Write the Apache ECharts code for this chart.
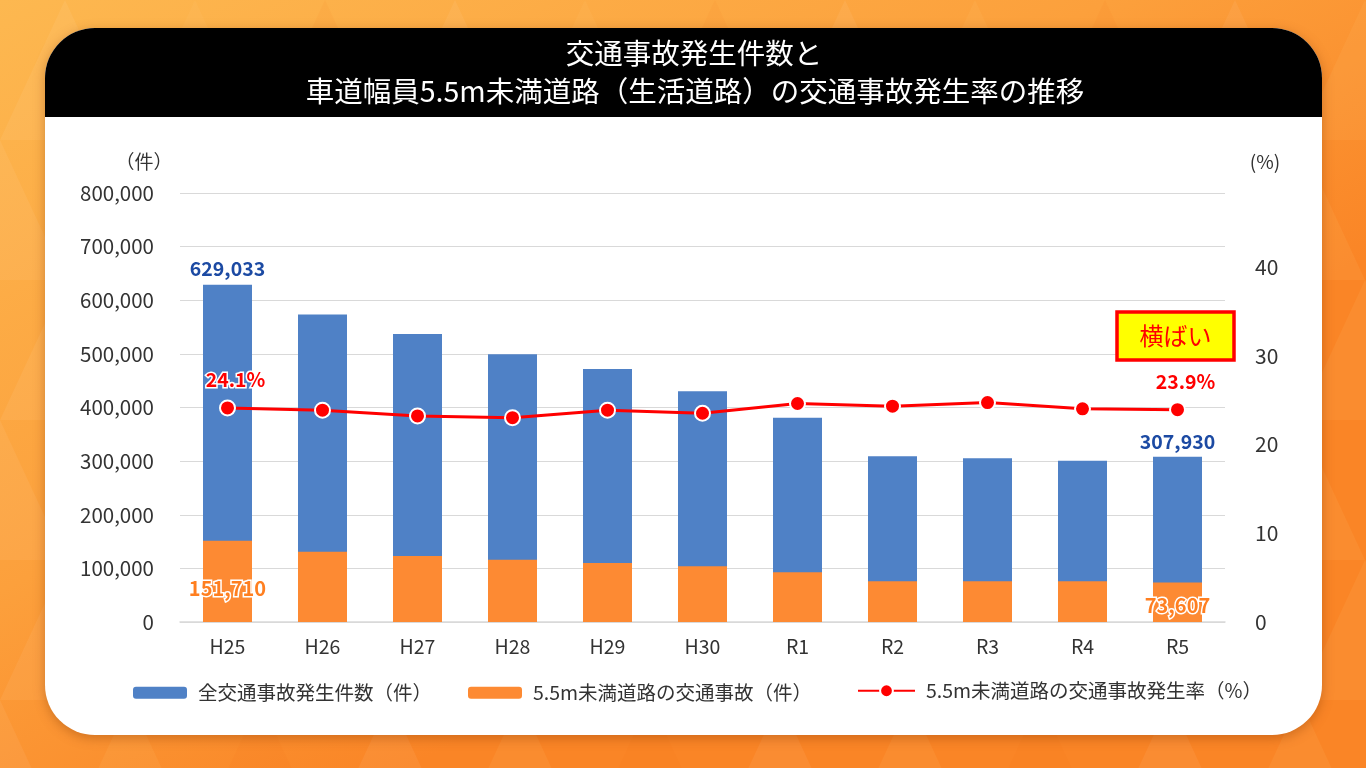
<!DOCTYPE html>
<html>
<head>
<meta charset="utf-8">
<script src="https://cdn.jsdelivr.net/npm/echarts@6/dist/echarts.min.js"></script>
<style>
html,body{margin:0;padding:0;width:1366px;height:768px;overflow:hidden;}
#c{width:1366px;height:768px;}
</style>
</head>
<body>
<div id="c"></div>
<script>
const categories = ['H25','H26','H27','H28','H29','H30','R1','R2','R3','R4','R5'];
const totalAccidents = [629033, 573465, 536931, 499098, 471859, 430450, 381002, 309178, 305196, 300839, 307930];
const narrowRoadAccidents = [151710, 131000, 123000, 116000, 110000, 104000, 93000, 76000, 76000, 76000, 73607];
const narrowRoadRate = [24.1, 23.85, 23.2, 23.0, 23.85, 23.5, 24.6, 24.3, 24.7, 24.0, 23.9];
const leftTicks = [0, 100000, 200000, 300000, 400000, 500000, 600000, 700000, 800000];
const rightTicks = [0, 10, 20, 30, 40];
const seriesNames = ['全交通事故発生件数（件）', '5.5m未満道路の交通事故（件）', '5.5m未満道路の交通事故発生率（%）'];
const titleLines = ['交通事故発生件数と', '車道幅員5.5m未満道路（生活道路）の交通事故発生率の推移'];
const badgeText = '横ばい';

const FONT = '"Noto Sans CJK JP","Noto Sans",sans-serif';
const last = categories.length - 1;

const chart = echarts.init(document.getElementById('c'));

// decorative background triangles
const tris = [];
const triColors = ['rgba(255,255,255,0.06)','rgba(255,210,130,0.10)','rgba(230,110,20,0.06)'];
let k = 0;
for (let row = 0; row < 6; row++) {
  for (let col = 0; col < 12; col++) {
    const x = col * 130 - (row % 2) * 65;
    const y = row * 140;
    tris.push({
      type: 'polygon', silent: true, z: -10,
      shape: { points: [[x, y + 140], [x + 65, y], [x + 130, y + 140]] },
      style: { fill: triColors[(k++) % 3] }
    });
  }
}

const blueData = totalAccidents.map((v, i) => ({
  value: v,
  label: { show: i === 0 || i === last }
}));
const orangeData = narrowRoadAccidents.map((v, i) => ({
  value: v,
  label: { show: i === 0 || i === last, distance: i === 0 ? 24 : 7 }
}));
const rateData = narrowRoadRate.map((v, i) => ({
  value: v,
  label: { show: i === 0 || i === last }
}));

const legendText = { fontSize: 19.5, color: '#333333', fontFamily: FONT, padding: [0, 0, 0, 6] };

chart.setOption({
  animation: false,
  backgroundColor: {
    type: 'linear', x: 0, y: 0, x2: 0.3, y2: 1,
    colorStops: [{ offset: 0, color: '#fdb850' }, { offset: 0.6, color: '#fca03c' }, { offset: 1, color: '#fa8526' }]
  },
  textStyle: { fontFamily: FONT },
  graphic: [
    ...tris,
    {
      type: 'rect', z: -5, silent: true,
      shape: { x: 45, y: 28, width: 1277, height: 707, r: 50 },
      style: { fill: '#ffffff', shadowBlur: 12, shadowColor: 'rgba(120,50,0,0.35)', shadowOffsetY: 3 }
    },
    {
      type: 'rect', z: -4, silent: true,
      shape: { x: 45, y: 28, width: 1277, height: 89, r: [50, 50, 0, 0] },
      style: { fill: '#000000' }
    },
    {
      type: 'text', z: 10, x: 694, y: 53,
      style: { text: titleLines[0], fill: '#ffffff', font: '28.5px ' + FONT, align: 'center', verticalAlign: 'middle' }
    },
    {
      type: 'text', z: 10, x: 695, y: 91,
      style: { text: titleLines[1], fill: '#ffffff', font: '28.5px ' + FONT, align: 'center', verticalAlign: 'middle' }
    },
    {
      type: 'text', z: 10, x: 144, y: 162,
      style: { text: '（件）', fill: '#333333', font: '19px ' + FONT, align: 'center', verticalAlign: 'middle' }
    },
    {
      type: 'text', z: 10, x: 1265, y: 162,
      style: { text: '(%)', fill: '#333333', font: '19px ' + FONT, align: 'center', verticalAlign: 'middle' }
    },
    {
      type: 'rect', z: 10,
      shape: { x: 1117, y: 312, width: 117, height: 48 },
      style: { fill: '#ffff00', stroke: '#ff0000', lineWidth: 3.5 }
    },
    {
      type: 'text', z: 11, x: 1175.5, y: 336,
      style: { text: badgeText, fill: '#ff0000', font: '24px ' + FONT, align: 'center', verticalAlign: 'middle' }
    }
  ],
  grid: { left: 180, right: 141, top: 193, bottom: 146 },
  legend: [
    {
      left: 128, top: 678,
      itemWidth: 54, itemHeight: 12, itemGap: 36,
      textStyle: legendText,
      data: [seriesNames[0], seriesNames[1]]
    },
    {
      left: 852, top: 676,
      itemWidth: 57, itemHeight: 16,
      textStyle: legendText,
      data: [seriesNames[2]]
    }
  ],
  xAxis: {
    type: 'category', data: categories,
    axisLine: { lineStyle: { color: '#d9d9d9', width: 1.5 } },
    axisTick: { show: false },
    axisLabel: { fontSize: 19.5, color: '#333333', margin: 15, fontFamily: FONT }
  },
  yAxis: [
    {
      type: 'value', min: leftTicks[0], max: leftTicks[leftTicks.length - 1], interval: leftTicks[1] - leftTicks[0],
      axisLine: { show: false }, axisTick: { show: false },
      splitLine: { lineStyle: { color: '#d9d9d9', width: 1.2 } },
      axisLabel: {
        fontSize: 20.5, color: '#333333', margin: 26, fontFamily: FONT,
        formatter: v => v.toLocaleString('en-US')
      }
    },
    {
      type: 'value', min: rightTicks[0], max: 48.3, interval: rightTicks[1] - rightTicks[0],
      axisLine: { show: false }, axisTick: { show: false }, splitLine: { show: false },
      axisLabel: {
        fontSize: 21, color: '#333333', margin: 30, fontFamily: FONT,
        showMaxLabel: false,
        formatter: v => (rightTicks.indexOf(v) >= 0 ? String(v) : '')
      }
    }
  ],
  series: [
    {
      name: seriesNames[0], type: 'bar', data: blueData, barWidth: 49, z: 2,
      itemStyle: { color: '#4f81c6' },
      label: {
        position: 'top', distance: 6, color: '#1c4aa3', fontSize: 19.5, fontWeight: 'bold', fontFamily: FONT,
        formatter: p => p.value.toLocaleString('en-US')
      }
    },
    {
      name: seriesNames[1], type: 'bar', data: orangeData, barWidth: 49, barGap: '-100%', z: 3,
      itemStyle: { color: '#fd8a33' },
      label: {
        position: 'insideBottom', color: '#ff7f20', fontSize: 20, fontWeight: 'bold', fontFamily: FONT,
        textBorderColor: '#ffffff', textBorderWidth: 3,
        formatter: p => p.value.toLocaleString('en-US')
      }
    },
    {
      name: seriesNames[2], type: 'line', yAxisIndex: 1, data: rateData, z: 5,
      symbol: 'circle', symbolSize: 15,
      lineStyle: { color: '#ff0000', width: 3 },
      itemStyle: { color: '#ff0000', borderColor: '#ffffff', borderWidth: 2 },
      label: {
        position: 'top', distance: 10, offset: [8, 0], color: '#ff0000', fontSize: 19.5, fontWeight: 'bold', fontFamily: FONT,
        textBorderColor: '#ffffff', textBorderWidth: 3,
        formatter: p => p.value.toFixed(1) + '%'
      }
    }
  ]
});
</script>
</body>
</html>
